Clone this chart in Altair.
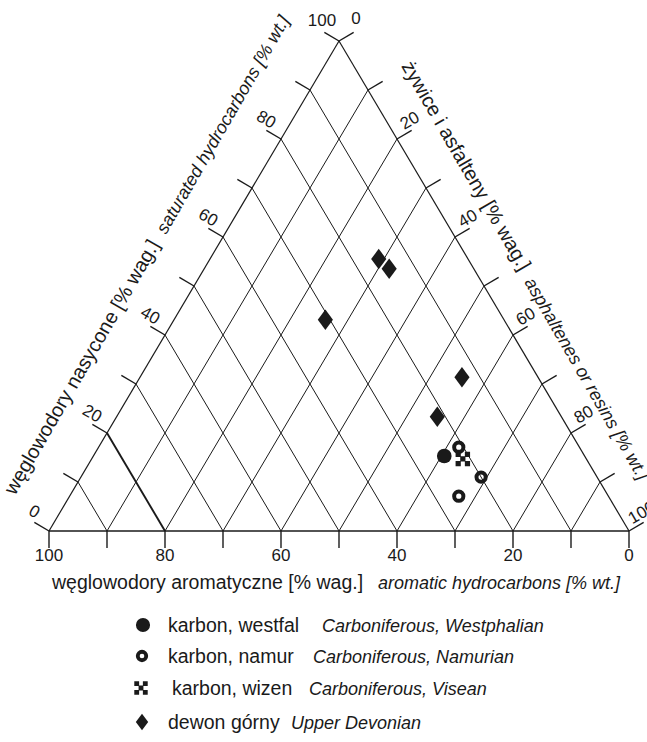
import altair as alt
import pandas as pd

# ---------------- data (percent by weight) ----------------
westfal_sat = [15.3]
westfal_aro = [24.2]
westfal_res = [60.5]

namur_sat = [17.1, 11.0, 7.1]
namur_aro = [20.8, 20.0, 25.8]
namur_res = [62.1, 69.0, 67.1]

wizen_sat = [14.7]
wizen_aro = [21.3]
wizen_res = [64.0]

dewon_sat = [55.5, 53.5, 43.1, 31.4, 23.3]
dewon_aro = [15.4, 14.6, 30.8, 13.1, 21.4]
dewon_res = [29.1, 31.9, 26.1, 55.5, 55.3]

grid_values = [10, 20, 30, 40, 50, 60, 70, 80, 90]
tick_values = [0, 10, 20, 30, 40, 50, 60, 70, 80, 90, 100]
label_values = [0, 20, 40, 60, 80, 100]

legend_pl = ["karbon, westfal", "karbon, namur", "karbon, wizen", "dewon górny"]
legend_en = ["Carboniferous, Westphalian", "Carboniferous, Namurian",
             "Carboniferous, Visean", "Upper Devonian"]

title_bottom = ["węglowodory aromatyczne [% wag.]", "aromatic hydrocarbons [% wt.]"]
title_left = ["węglowodory nasycone [% wag.]", "saturated hydrocarbons [% wt.]"]
title_right = ["żywice i asfalteny [% wag.]", "asphaltenes or resins [% wt.]"]

# ---------------- layout / style ----------------
W, H = 580, 490            # plot area (triangle bounding box)
OX, OY = 49, 41            # page position of plot area
KX, KY = W / 100.0, H / 100.0
FONT = "Liberation Sans"
INK = "#1a1a1a"
TICK = 17.0
NL = (-0.861, -0.509)      # outward normal of left edge (screen px)
NR = (0.861, -0.509)       # outward normal of right edge


def fx(px):
    return (px - OX) / KX


def fy(py):
    return (OY + H - py) / KY


def dxu(px):
    return px / KX


def dyu(px):  # screen px (down positive) -> data units (up positive)
    return -px / KY


# grid lines in ternary coordinates (sat, res)
grid_rows = []
for v in grid_values:
    # constant aromatic = v : bottom -> left edge
    grid_rows.append(dict(s1=0, r1=100 - v, s2=100 - v, r2=0, w=1.9 if v == 80 else 1.0))
    # constant resins = v : bottom -> right edge
    grid_rows.append(dict(s1=0, r1=v, s2=100 - v, r2=v, w=1.0))
# triangle edges
grid_rows.append(dict(s1=0, r1=0, s2=0, r2=100, w=1.7))
grid_rows.append(dict(s1=0, r1=0, s2=100, r2=0, w=1.2))
grid_rows.append(dict(s1=0, r1=100, s2=100, r2=0, w=1.2))
grid_df = pd.DataFrame(grid_rows)

# ticks
tick_rows = []
for v in tick_values:
    tick_rows.append(dict(s=0, r=100 - v, ox=0, oy=dyu(TICK)))                       # bottom (aromatic)
    tick_rows.append(dict(s=v, r=0, ox=dxu(NL[0] * TICK), oy=dyu(NL[1] * TICK)))      # left (saturated)
    tick_rows.append(dict(s=100 - v, r=v, ox=dxu(NR[0] * TICK), oy=dyu(NR[1] * TICK)))  # right (resins)
tick_df = pd.DataFrame(tick_rows)

# tick labels
lab_rows = []
for v in label_values:
    lab_rows.append(dict(s=0, r=100 - v, t=str(v), ox=0, oy=dyu(25), ang=0))
    if v < 100:
        lab_rows.append(dict(s=v, r=0, t=str(v), ox=dxu(-15), oy=dyu(-19), ang=30))
    else:
        lab_rows.append(dict(s=v, r=0, t=str(v), ox=dxu(-17), oy=dyu(-20), ang=0))
    if v > 0:
        lab_rows.append(dict(s=100 - v, r=v, t=str(v), ox=dxu(13), oy=dyu(-18), ang=330))
    else:
        lab_rows.append(dict(s=100 - v, r=v, t=str(v), ox=dxu(17), oy=dyu(-22), ang=0))
lab_df = pd.DataFrame(lab_rows)

xs = alt.Scale(domain=[0, 100], nice=False, zero=False)
ys = alt.Scale(domain=[0, 100], nice=False, zero=False)

grid = alt.Chart(grid_df).transform_calculate(
    x1="datum.r1 + datum.s1 / 2", y1="datum.s1",
    x2="datum.r2 + datum.s2 / 2", y2="datum.s2",
).mark_rule(color=INK).encode(
    x=alt.X("x1:Q", scale=xs, axis=None),
    y=alt.Y("y1:Q", scale=ys, axis=None),
    x2="x2:Q", y2="y2:Q",
    strokeWidth=alt.StrokeWidth("w:Q", scale=None),
)

ticks = alt.Chart(tick_df).transform_calculate(
    x1="datum.r + datum.s / 2", y1="datum.s",
).transform_calculate(
    x2="datum.x1 + datum.ox", y2="datum.y1 + datum.oy",
).mark_rule(color=INK, strokeWidth=1.4).encode(
    x=alt.X("x1:Q", scale=xs, axis=None),
    y=alt.Y("y1:Q", scale=ys, axis=None),
    x2="x2:Q", y2="y2:Q",
)

labels = alt.Chart(lab_df).transform_calculate(
    lx="datum.r + datum.s / 2 + datum.ox", ly="datum.s + datum.oy",
).mark_text(font=FONT, fontSize=17, color=INK, align="center", baseline="middle").encode(
    x=alt.X("lx:Q", scale=xs, axis=None),
    y=alt.Y("ly:Q", scale=ys, axis=None),
    text="t:N",
    angle=alt.Angle("ang:Q", scale=None),
)

# ---------------- data points ----------------
def tern(sat, aro, res, grp):
    return pd.DataFrame({"sat": sat, "aro": aro, "res": res, "grp": grp})


pts = pd.concat([
    tern(westfal_sat, westfal_aro, westfal_res, "westfal"),
    tern(namur_sat, namur_aro, namur_res, "namur"),
    tern(wizen_sat, wizen_aro, wizen_res, "wizen"),
    tern(dewon_sat, dewon_aro, dewon_res, "dewon"),
], ignore_index=True)

CROSS = ("M-1,-1L-0.28,-1L-0.28,-0.28L-1,-0.28Z "
         "M0.28,-1L1,-1L1,-0.28L0.28,-0.28Z "
         "M-1,0.28L-0.28,0.28L-0.28,1L-1,1Z "
         "M0.28,0.28L1,0.28L1,1L0.28,1Z "
         "M-0.36,-0.36L0.36,-0.36L0.36,0.36L-0.36,0.36Z")
DIAMOND = "M0,-1L0.74,0L0,1L-0.74,0Z"

pbase = alt.Chart(pts).transform_calculate(
    tx="datum.res + datum.sat / 2", ty="datum.sat"
)
PX = alt.X("tx:Q", scale=xs, axis=None)
PY = alt.Y("ty:Q", scale=ys, axis=None)

p_westfal = pbase.transform_filter("datum.grp == 'westfal'").mark_point(
    shape="circle", filled=True, size=215, color=INK, opacity=1).encode(x=PX, y=PY)
p_namur = pbase.transform_filter("datum.grp == 'namur'").mark_point(
    shape="circle", filled=False, size=85, strokeWidth=4, color=INK, opacity=1).encode(x=PX, y=PY)
p_wizen = pbase.transform_filter("datum.grp == 'wizen'").mark_point(
    shape=CROSS, filled=True, size=210, color=INK, opacity=1).encode(x=PX, y=PY)
p_dewon = pbase.transform_filter("datum.grp == 'dewon'").mark_point(
    shape=DIAMOND, filled=True, size=420, color=INK, opacity=1).encode(x=PX, y=PY)

# ---------------- axis titles ----------------
titles_df = pd.DataFrame([
    dict(t=title_bottom[0], x=fx(52), y=fy(589), ang=0, it=0, fs=19.5),
    dict(t=title_bottom[1], x=fx(378), y=fy(589), ang=0, it=1, fs=18),
    dict(t=title_left[0], x=fx(15), y=fy(496), ang=300, it=0, fs=20),
    dict(t=title_left[1], x=fx(166), y=fy(235), ang=300, it=1, fs=18),
    dict(t=title_right[0], x=fx(401), y=fy(66), ang=60, it=0, fs=20),
    dict(t=title_right[1], x=fx(524), y=fy(282), ang=60, it=1, fs=18),
])
TX = alt.X("x:Q", scale=xs, axis=None)
TY = alt.Y("y:Q", scale=ys, axis=None)
t_plain = alt.Chart(titles_df).transform_filter("datum.it == 0").mark_text(
    font=FONT, color=INK, align="left", baseline="alphabetic").encode(
    x=TX, y=TY, text="t:N", angle=alt.Angle("ang:Q", scale=None),
    size=alt.Size("fs:Q", scale=None))
t_ital = alt.Chart(titles_df).transform_filter("datum.it == 1").mark_text(
    font=FONT, fontStyle="italic", color=INK, align="left",
    baseline="alphabetic").encode(
    x=TX, y=TY, text="t:N", angle=alt.Angle("ang:Q", scale=None),
    size=alt.Size("fs:Q", scale=None))

# ---------------- custom legend ----------------
leg_sym_x = [143, 142, 141, 142]
leg_y = [625, 656, 688, 722]
leg_pl_x = [168, 168, 172, 168]
leg_en_x = [322, 313, 309, 291]
leg_df = pd.DataFrame({
    "pl": legend_pl, "en": legend_en,
    "sx": [fx(v) for v in leg_sym_x],
    "sy": [fy(v) for v in leg_y],
    "px": [fx(v) for v in leg_pl_x],
    "ex": [fx(v) for v in leg_en_x],
    "ty": [fy(v + 7) for v in leg_y],
    "k": [0, 1, 2, 3],
})
LX = alt.X("sx:Q", scale=xs, axis=None)
LY = alt.Y("sy:Q", scale=ys, axis=None)
lb = alt.Chart(leg_df)
l0 = lb.transform_filter("datum.k == 0").mark_point(
    shape="circle", filled=True, size=200, color=INK, opacity=1).encode(x=LX, y=LY)
l1 = lb.transform_filter("datum.k == 1").mark_point(
    shape="circle", filled=False, size=72, strokeWidth=3.8, color=INK, opacity=1).encode(x=LX, y=LY)
l2 = lb.transform_filter("datum.k == 2").mark_point(
    shape=CROSS, filled=True, size=180, color=INK, opacity=1).encode(x=LX, y=LY)
l3 = lb.transform_filter("datum.k == 3").mark_point(
    shape=DIAMOND, filled=True, size=280, color=INK, opacity=1).encode(x=LX, y=LY)
l_pl = lb.mark_text(font=FONT, fontSize=19.5, color=INK, align="left", baseline="alphabetic").encode(
    x=alt.X("px:Q", scale=xs, axis=None), y=alt.Y("ty:Q", scale=ys, axis=None), text="pl:N")
l_en = lb.mark_text(font=FONT, fontSize=18, fontStyle="italic", color=INK, align="left",
                    baseline="alphabetic").encode(
    x=alt.X("ex:Q", scale=xs, axis=None), y=alt.Y("ty:Q", scale=ys, axis=None), text="en:N")

chart = alt.layer(
    grid, ticks, labels, t_plain, t_ital,
    p_westfal, p_namur, p_wizen, p_dewon,
    l0, l1, l2, l3, l_pl, l_en,
).properties(
    width=W, height=H,
    autosize=alt.AutoSizeParams(type="none"),
    padding={"left": OX, "top": OY, "right": 647 - OX - W, "bottom": 742 - OY - H},
    background="white",
).configure_view(stroke=None)

chart.save("out.html", embed_options={"renderer": "svg", "actions": False})
